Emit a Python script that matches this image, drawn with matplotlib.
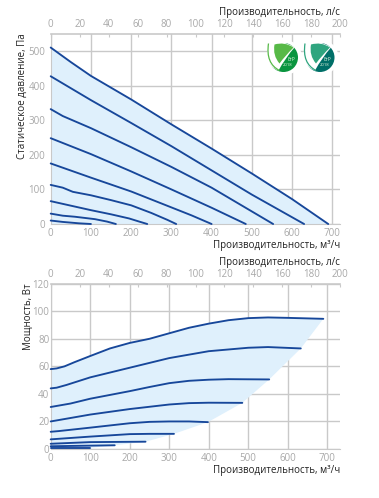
import numpy as np
import matplotlib.pyplot as plt
from matplotlib.patches import Circle, PathPatch
from matplotlib.path import Path

plt.rcParams['font.family'] = ['Open Sans', 'DejaVu Sans']

W, H = 379, 498

# pressure curves, m3/h and Pa
p1_x = [0, 50, 100, 200, 300, 400, 500, 600, 690]
p1_y = [510, 468, 428, 360, 288, 218, 146, 72, 0]
p2_x = [0, 100, 200, 300, 400, 500, 630]
p2_y = [427, 358, 292, 225, 155, 85, 0]
p3_x = [0, 30, 100, 200, 300, 400, 553]
p3_y = [332, 312, 277, 222, 165, 105, 0]
p4_x = [0, 100, 200, 300, 400, 485]
p4_y = [248, 202, 152, 100, 47, 0]
p5_x = [0, 100, 200, 300, 350, 400]
p5_y = [175, 134, 94, 48, 25, 0]
p6_x = [0, 30, 55, 100, 150, 200, 250, 290, 312]
p6_y = [113, 105, 93, 83, 69, 54, 32, 12, 0]
p7_x = [0, 50, 100, 150, 195, 220, 240]
p7_y = [66, 53, 40, 28, 16, 7, 0]
p8_x = [0, 30, 60, 110, 140, 162]
p8_y = [30, 24, 21, 14, 7, 0]
p9_x = [0, 30, 70, 100]
p9_y = [10, 6, 2, 0]

pressure = [(p1_x, p1_y), (p2_x, p2_y), (p3_x, p3_y), (p4_x, p4_y), (p5_x, p5_y),
            (p6_x, p6_y), (p7_x, p7_y), (p8_x, p8_y), (p9_x, p9_y)]

# power curves, m3/h and W
w1_x = [0, 15, 35, 60, 100, 150, 200, 250, 300, 350, 400, 450, 500, 550, 600, 690]
w1_y = [58, 58.5, 60, 63, 67.5, 73, 77, 80, 84, 88, 91, 93.5, 95, 95.5, 95.2, 94.5]
w2_x = [0, 15, 40, 100, 200, 300, 400, 500, 550, 633]
w2_y = [44, 44.5, 46.5, 52, 59, 66, 71, 73.5, 74, 73]
w3_x = [0, 20, 50, 100, 200, 250, 300, 350, 400, 450, 553]
w3_y = [30.5, 31.5, 33, 36.5, 42, 45, 47.8, 49.5, 50.3, 50.7, 50.5]
w4_x = [0, 50, 100, 200, 300, 350, 400, 485]
w4_y = [20, 22.5, 25, 29, 32.3, 33.3, 33.6, 33.5]
w5_x = [0, 20, 100, 200, 250, 300, 350, 398]
w5_y = [12.5, 13, 15.5, 18.7, 19.7, 20, 20, 19.5]
w6_x = [0, 100, 200, 250, 312]
w6_y = [7, 9, 10.8, 11, 11]
w7_x = [0, 100, 240]
w7_y = [3.8, 5, 5.3]
w8_x = [0, 162]
w8_y = [2, 2.7]
w9_x = [0, 100]
w9_y = [0.8, 0.8]

power = [(w1_x, w1_y), (w2_x, w2_y), (w3_x, w3_y), (w4_x, w4_y), (w5_x, w5_y),
         (w6_x, w6_y), (w7_x, w7_y), (w8_x, w8_y), (w9_x, w9_y)]

flow_ticks = [0, 100, 200, 300, 400, 500, 600, 700]
ls_ticks = [0, 20, 40, 60, 80, 100, 120, 140, 160, 180, 200]
pressure_ticks = [0, 100, 200, 300, 400, 500]
power_ticks = [0, 20, 40, 60, 80, 100, 120]

LINE = '#17479a'
FILL = '#dff0fc'
GRID = '#c9c9c9'
TICK = '#a8a8a8'
LABEL = '#222222'
FS = 7.0
OFFSET = 15.5  # points between axes edge and the axis titles


def make_axes(fig, left, top, right, bottom):
    return fig.add_axes([left / W, 1 - bottom / H, (right - left) / W, (bottom - top) / H])


def style(ax, xmax, ymax, yticks, pad_y):
    ax.set_xlim(0, xmax)
    ax.set_ylim(0, ymax)
    ax.set_xticks(flow_ticks)
    ax.set_yticks(yticks)
    ax.grid(True, color=GRID, lw=1.0)
    ax.set_axisbelow(True)
    for s in ax.spines.values():
        s.set_visible(False)
    ax.spines['left'].set_visible(True)
    ax.spines['bottom'].set_visible(True)
    ax.spines['left'].set_color(GRID)
    ax.spines['bottom'].set_color(GRID)
    ax.tick_params(axis='x', length=0, labelsize=FS, labelcolor=TICK, pad=3)
    ax.tick_params(axis='y', length=0, labelsize=FS, labelcolor=TICK, pad=pad_y)
    ax.annotate('Производительность, м³/ч', xy=(1, 0), xycoords='axes fraction',
                xytext=(0, -OFFSET), textcoords='offset points',
                ha='right', va='center', fontsize=FS, color=LABEL)

    # second scale on top, l/s
    top = ax.twiny()
    top.set_xlim(0, 200)
    top.set_xticks(ls_ticks)
    for s in top.spines.values():
        s.set_visible(False)
    top.spines['top'].set_visible(True)
    top.spines['top'].set_color(GRID)
    top.spines['top'].set_linewidth(1.2)
    top.tick_params(axis='x', direction='in', length=2, width=0.8, color=GRID,
                    labelsize=FS, labelcolor=TICK, pad=3)
    top.annotate('Производительность, л/с', xy=(1, 1), xycoords='axes fraction',
                 xytext=(0, OFFSET), textcoords='offset points',
                 ha='right', va='center', fontsize=FS, color=LABEL)


def badge(ax, cx, cy, color, light):
    r = 14.5
    ax.add_patch(Circle((cx + 1, cy), r + 3, fc='white', ec='none'))
    ax.add_patch(Circle((cx, cy), r, fc=color, ec='none'))
    # white leaf over the circle
    leaf = Path([(cx - 15, cy - 14), (cx, cy - 18), (cx + 11, cy - 10),
                 (cx + 2, cy), (cx - 5, cy + 13),
                 (cx - 20, cy + 8), (cx - 15, cy - 14)],
                [Path.MOVETO, Path.CURVE3, Path.CURVE3, Path.CURVE3, Path.CURVE3,
                 Path.CURVE3, Path.CURVE3])
    ax.add_patch(PathPatch(leaf, fc='white', ec='none'))
    # right lobe
    lobe = Path([(cx - 9, cy - 13), (cx + 1, cy - 16), (cx + 10, cy - 10),
                 (cx + 1, cy - 1), (cx - 4, cy + 6),
                 (cx - 11, cy - 2), (cx - 9, cy - 13)],
                [Path.MOVETO, Path.CURVE3, Path.CURVE3, Path.CURVE3, Path.CURVE3,
                 Path.CURVE3, Path.CURVE3])
    ax.add_patch(PathPatch(lobe, fc=light, ec='none'))
    # left edge of the leaf, thin
    edge = Path([(cx - 15, cy - 14), (cx - 18, cy + 6), (cx - 4, cy + 13)],
                [Path.MOVETO, Path.CURVE3, Path.CURVE3])
    ax.add_patch(PathPatch(edge, fc='none', ec=light, lw=0.9))
    ax.text(cx + 7.5, cy + 1.5, 'ErP', color='#d8f0d8', fontsize=3.6, ha='center', va='center')
    ax.text(cx + 4.5, cy + 7.5, '2018', color='#d8f0d8', fontsize=3.1, ha='center', va='center')


fig = plt.figure(figsize=(W / 100, H / 100), dpi=100)

# static pressure
ax1 = make_axes(fig, 50.7, 33.7, 340.3, 224)
xf = np.array(p1_x)
ax1.fill_between(xf, p1_y, 0, color=FILL, lw=0, zorder=1)
for x, y in pressure:
    ax1.plot(x, y, color=LINE, lw=1.35, zorder=3, solid_capstyle='round', clip_on=False)
style(ax1, 720, 550, pressure_ticks, 4)
ax1.set_ylabel('Статическое давление, Па', fontsize=FS, color=LABEL, y=1.0, ha='right')
ax1.yaxis.set_label_coords(-23 / 289.6, 1.0)

# power
ax2 = make_axes(fig, 50.7, 283.7, 340.3, 449)
# right edge of the shaded area runs through the curve ends
env_x = [c[0][-1] for c in power]
env_y = [c[1][-1] for c in power]
poly_x = list(w1_x) + env_x[1:] + [0]
poly_y = list(w1_y) + env_y[1:] + [0]
ax2.fill(poly_x, poly_y, color=FILL, lw=0, zorder=1)
for x, y in power:
    ax2.plot(x, y, color=LINE, lw=1.35, zorder=3, solid_capstyle='round', clip_on=False)
style(ax2, 733, 120, power_ticks, 1)
ax2.set_ylabel('Мощность, Вт', fontsize=FS, color=LABEL, y=1.0, ha='right')
ax2.yaxis.set_label_coords(-17 / 289.6, 1.0)

# logos in pixel coordinates
over = fig.add_axes([0, 0, 1, 1], facecolor='none')
over.set_xlim(0, W)
over.set_ylim(H, 0)
over.axis('off')
badge(over, 283.5, 57.5, '#0a953f', '#57b947')
badge(over, 320, 57.5, '#006f68', '#2fa57f')

fig.savefig('out.png', dpi=100)
plt.close(fig)
